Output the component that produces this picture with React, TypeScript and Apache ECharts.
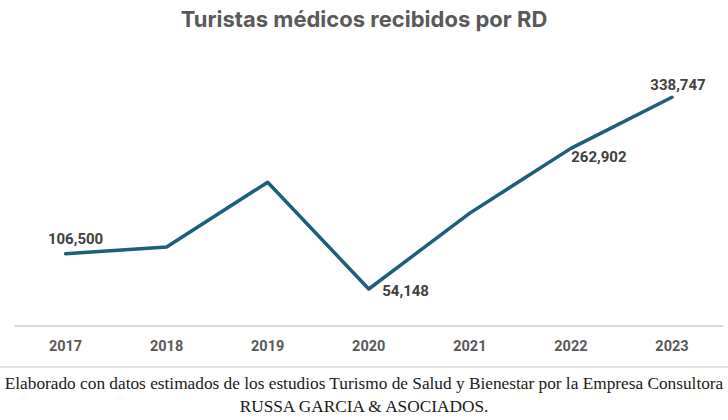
import React, { useEffect, useRef } from "react";
import * as echarts from "echarts";

const years = ["2017", "2018", "2019", "2020", "2021", "2022", "2023"];
const tourists = [106500, 116400, 212700, 54148, 166800, 262902, 338747];
const labeledYears = ["2017", "2020", "2022", "2023"];
const titleText = "Turistas médicos recibidos por RD";
const footerLine1 =
  "Elaborado con datos estimados de los estudios Turismo de Salud y Bienestar por la Empresa Consultora";
const footerLine2 = "RUSSA GARCIA & ASOCIADOS.";

const labelPlacement: Record<string, any> = {
  "2017": { position: "top", offset: [10, -2] },
  "2020": { position: "right", distance: 13, offset: [0, 2] },
  "2022": { position: "bottom", offset: [28, -4] },
  "2023": { position: "top", offset: [6, 1] },
};

export default function App() {
  const ref = useRef<HTMLDivElement>(null);
  useEffect(() => {
    if (!ref.current) return;
    const chart = echarts.init(ref.current, null, { renderer: "svg" });
    const data = tourists.map((v, i) => {
      const y = years[i];
      const show = labeledYears.includes(y);
      return {
        value: v,
        label: show ? { show: true, ...labelPlacement[y] } : { show: false },
      };
    });
    chart.setOption({
      animation: false,
      backgroundColor: "#ffffff",
      title: {
        text: titleText,
        left: "center",
        top: 3,
        textStyle: {
          fontFamily: "Inter",
          fontWeight: "bold",
          fontSize: 22,
          color: "#595959",
        },
      },
      grid: { left: 15, right: 5.5, top: 56, bottom: 94.5, containLabel: false },
      xAxis: {
        type: "category",
        data: years,
        boundaryGap: true,
        axisLine: { show: true, lineStyle: { color: "#d9d9d9", width: 2 } },
        axisTick: { show: false },
        axisLabel: {
          margin: 13,
          fontFamily: "Roboto",
          fontWeight: "bold",
          fontSize: 14.5,
          color: "#595959",
        },
      },
      yAxis: {
        type: "value",
        min: 0,
        max: 400000,
        show: false,
        splitLine: { show: false },
      },
      series: [
        {
          type: "line",
          data,
          symbol: "circle",
          symbolSize: 1,
          itemStyle: { color: "#1d5e7b" },
          lineStyle: { color: "#1d5e7b", width: 3.5, cap: "round", join: "round" },
          label: {
            fontFamily: "Roboto",
            fontWeight: "bold",
            fontSize: 15,
            color: "#404040",
            formatter: (p: any) => Number(p.value).toLocaleString("en-US"),
          },
        },
      ],
      graphic: [
        {
          type: "line",
          shape: { x1: 0, y1: 367, x2: 728, y2: 367 },
          style: { stroke: "#e0e0e0", lineWidth: 2 },
        },
        {
          type: "text",
          x: 364,
          y: 383,
          style: {
            text: footerLine1,
            fontFamily: "Liberation Serif",
            fontSize: 17.3,
            fill: "#1a1a1a",
            align: "center",
            verticalAlign: "middle",
          },
        },
        {
          type: "text",
          x: 364,
          y: 406,
          style: {
            text: footerLine2,
            fontFamily: "Liberation Serif",
            fontSize: 17.3,
            fill: "#1a1a1a",
            align: "center",
            verticalAlign: "middle",
          },
        },
      ],
    });
    return () => chart.dispose();
  }, []);
  return (
    <div
      ref={ref}
      style={{ position: "fixed", left: 0, top: 0, width: 728, height: 420 }}
    />
  );
}
